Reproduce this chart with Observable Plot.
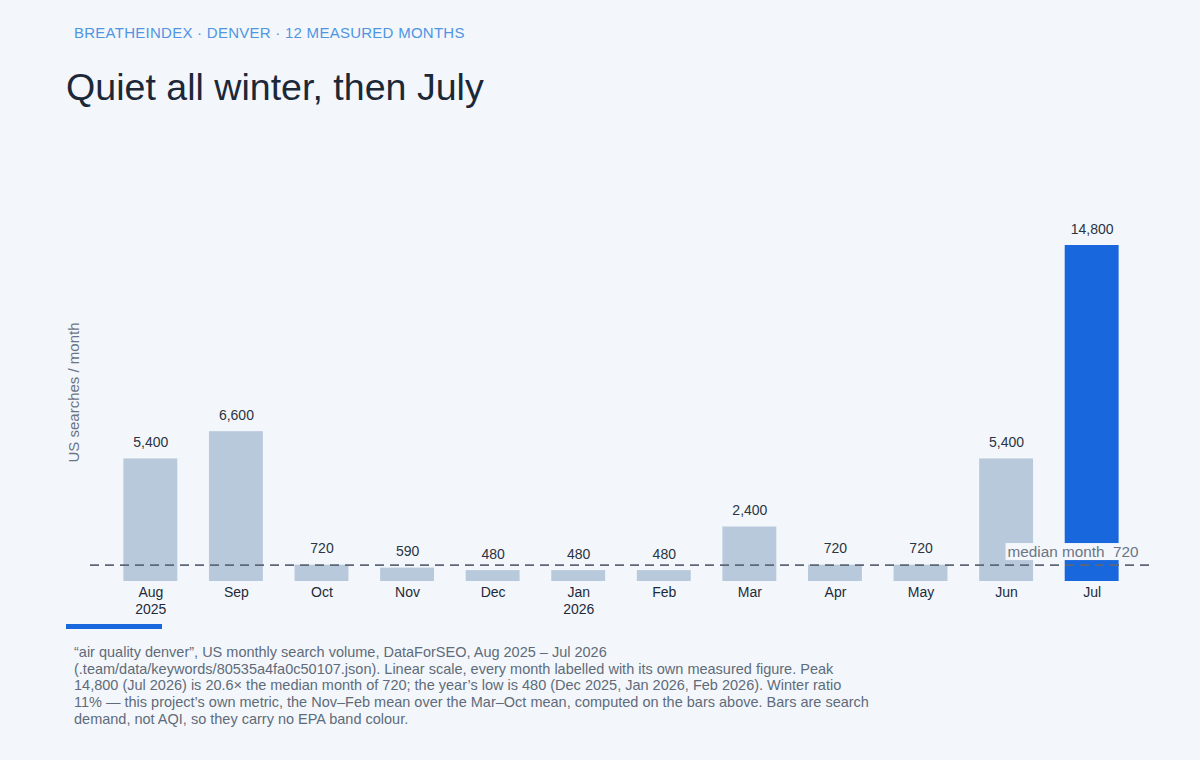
<!DOCTYPE html>
<html>
<head>
<meta charset="utf-8">
<script src="https://cdn.jsdelivr.net/npm/d3@7"></script>
<script src="https://cdn.jsdelivr.net/npm/@observablehq/plot@0.6"></script>
<style>
  html, body { margin: 0; padding: 0; background: #f3f7fb; }
  body { width: 1200px; height: 760px; position: relative; overflow: hidden; font-family: "Liberation Sans", Arial, sans-serif; }
  #kicker { position: absolute; left: 74px; top: 24px; font-size: 15px; color: #4f95e2; letter-spacing: 0.26px; }
  #title { position: absolute; left: 66px; top: 69px; font-size: 37.6px; line-height: 1; color: #1c2838; }
  #chart { position: absolute; left: 0; top: 130px; }
  #accent { position: absolute; left: 66px; top: 624px; width: 96px; height: 5px; background: #1967dd; }
  #caption { position: absolute; left: 74px; top: 644px; width: 806px; font-size: 14.5px; line-height: 16.7px; color: #5f6b7a; }
</style>
</head>
<body>
<div id="kicker">BREATHEINDEX · DENVER · 12 MEASURED MONTHS</div>
<div id="title">Quiet all winter, then July</div>
<div id="chart"></div>
<div id="accent"></div>
<div id="caption">“air quality denver”, US monthly search volume, DataForSEO, Aug 2025 – Jul 2026 (.team/data/keywords/80535a4fa0c50107.json). Linear scale, every month labelled with its own measured figure. Peak 14,800 (Jul 2026) is 20.6× the median month of 720; the year’s low is 480 (Dec 2025, Jan 2026, Feb 2026). Winter ratio 11%&nbsp;— this project’s own metric, the Nov–Feb mean over the Mar–Oct mean, computed on the bars above. Bars are search demand, not AQI, so they carry no EPA band colour.</div>
<script>
const months = ["Aug", "Sep", "Oct", "Nov", "Dec", "Jan", "Feb", "Mar", "Apr", "May", "Jun", "Jul"];
const tickLabels = ["Aug\n2025", "Sep", "Oct", "Nov", "Dec", "Jan\n2026", "Feb", "Mar", "Apr", "May", "Jun", "Jul"];
const searches = [5400, 6600, 720, 590, 480, 480, 480, 2400, 720, 720, 5400, 14800];
const peakMonth = "Jul";
const medianMonth = 720;
const yLabel = "US searches / month";

const data = months.map((m, i) => ({month: m, value: searches[i]}));
const fmt = d3.format(",");
const tickMap = new Map(months.map((m, i) => [m, tickLabels[i]]));

const chart = Plot.plot({
  width: 1200,
  height: 490,
  marginLeft: 90,
  marginRight: 48,
  marginTop: 73,
  marginBottom: 39,
  style: {background: "transparent", fontFamily: "Liberation Sans, Arial, sans-serif", fontSize: "14px", color: "#1e2a3a"},
  x: {domain: months, paddingInner: 0.37, paddingOuter: 0.39, round: false, label: null},
  y: {domain: [0, d3.max(searches) * 1.125], label: null},
  marks: [
    Plot.barY(data, {x: "month", y: "value", fill: d => d.month === peakMonth ? "#1967dd" : "#b9c9dc"}),
    Plot.text(data, {x: "month", y: "value", text: d => fmt(d.value), lineAnchor: "bottom", dy: -12, fill: "#2a3442", fontSize: 14}),
    Plot.ruleY([medianMonth], {stroke: "#5d6778", strokeWidth: 1.6, strokeDasharray: "9,6"}),
    Plot.text([medianMonth], {y: d => d, frameAnchor: "right", textAnchor: "end", dx: -14, dy: -13, text: d => `median month\u00a0\u00a0${fmt(d)}`, fill: "#6b7585", fontSize: 15.3}),
    Plot.axisX({tickSize: 0, tickPadding: 3, tickFormat: d => tickMap.get(d), fontSize: 14, lineHeight: 1.25, fill: "#1e2a3a", label: null}),
    Plot.axisY({ticks: [], tickSize: 0, label: yLabel, labelAnchor: "center", labelArrow: "none", labelOffset: 22, fill: "#6b7585", fontSize: 15})
  ]
});
document.getElementById("chart").appendChild(chart);

// background box behind the median label
d3.select(chart).selectAll("text").filter(function() {
  return this.textContent.startsWith("median month");
}).each(function() {
  const b = this.getBBox();
  d3.select(this.parentNode).insert("rect", () => this)
    .attr("x", b.x - 2).attr("y", b.y).attr("width", b.width + 4).attr("height", b.height)
    .attr("transform", this.getAttribute("transform"))
    .attr("fill", "#f3f7fb");
});
</script>
</body>
</html>
